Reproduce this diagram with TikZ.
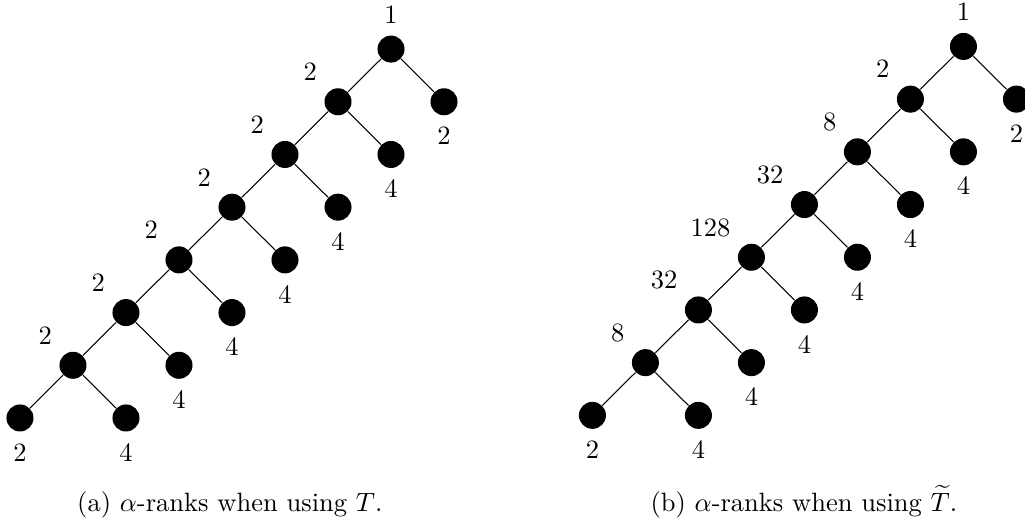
\documentclass[tikz,border=0pt]{standalone}
\usepackage{amsmath}
\usepackage{amssymb}

\begin{document}
\begin{tikzpicture}[
    x=0.703cm, y=0.699cm,
    vertex/.style={circle, fill=black, minimum size=10.2pt, inner sep=0pt},
    edge/.style={thin},
    caption/.style={anchor=base, font=\normalsize},
    label distance=1pt,
]
\useasboundingbox (-0.265cm,-1.366cm) rectangle (13.33cm,5.544cm);

% (a) ranks with T
\node[vertex, label=above:$1$] (a0) at (7,7) {};
\node[vertex, label=above left:$2$] (a1) at (6,6) {};
\node[vertex, label=below:$2$] (ar1) at (8,6) {};
\node[vertex, label=above left:$2$] (a2) at (5,5) {};
\node[vertex, label=below:$4$] (ar2) at (7,5) {};
\node[vertex, label=above left:$2$] (a3) at (4,4) {};
\node[vertex, label=below:$4$] (ar3) at (6,4) {};
\node[vertex, label=above left:$2$] (a4) at (3,3) {};
\node[vertex, label=below:$4$] (ar4) at (5,3) {};
\node[vertex, label=above left:$2$] (a5) at (2,2) {};
\node[vertex, label=below:$4$] (ar5) at (4,2) {};
\node[vertex, label=above left:$2$] (a6) at (1,1) {};
\node[vertex, label=below:$4$] (ar6) at (3,1) {};
\node[vertex, label=below:$2$] (a7) at (0,0) {};
\node[vertex, label=below:$4$] (ar7) at (2,0) {};

\draw[edge] (a0) -- (a1) -- (a2) -- (a3) -- (a4) -- (a5) -- (a6) -- (a7);
\draw[edge] (a0) -- (ar1);
\draw[edge] (a1) -- (ar2);
\draw[edge] (a2) -- (ar3);
\draw[edge] (a3) -- (ar4);
\draw[edge] (a4) -- (ar5);
\draw[edge] (a5) -- (ar6);
\draw[edge] (a6) -- (ar7);

\node[caption] (capa) at (3.96,-1.765) {(a) $\alpha$-ranks when using $T$.};

% (b) ranks with T tilde
\begin{scope}[shift={(10.8,0.05)}]
\node[vertex, label=above:$1$] (b0) at (7,7) {};
\node[vertex, label=above left:$2$] (b1) at (6,6) {};
\node[vertex, label=below:$2$] (br1) at (8,6) {};
\node[vertex, label=above left:$8$] (b2) at (5,5) {};
\node[vertex, label=below:$4$] (br2) at (7,5) {};
\node[vertex, label=above left:$32$] (b3) at (4,4) {};
\node[vertex, label=below:$4$] (br3) at (6,4) {};
\node[vertex, label=above left:$128$] (b4) at (3,3) {};
\node[vertex, label=below:$4$] (br4) at (5,3) {};
\node[vertex, label=above left:$32$] (b5) at (2,2) {};
\node[vertex, label=below:$4$] (br5) at (4,2) {};
\node[vertex, label=above left:$8$] (b6) at (1,1) {};
\node[vertex, label=below:$4$] (br6) at (3,1) {};
\node[vertex, label=below:$2$] (b7) at (0,0) {};
\node[vertex, label=below:$4$] (br7) at (2,0) {};

\draw[edge] (b0) -- (b1) -- (b2) -- (b3) -- (b4) -- (b5) -- (b6) -- (b7);
\draw[edge] (b0) -- (br1);
\draw[edge] (b1) -- (br2);
\draw[edge] (b2) -- (br3);
\draw[edge] (b3) -- (br4);
\draw[edge] (b4) -- (br5);
\draw[edge] (b5) -- (br6);
\draw[edge] (b6) -- (br7);
\end{scope}

\node[caption] (capb) at (14.79,-1.765) {(b) $\alpha$-ranks when using $\widetilde{T}$.};

\end{tikzpicture}
\end{document}
